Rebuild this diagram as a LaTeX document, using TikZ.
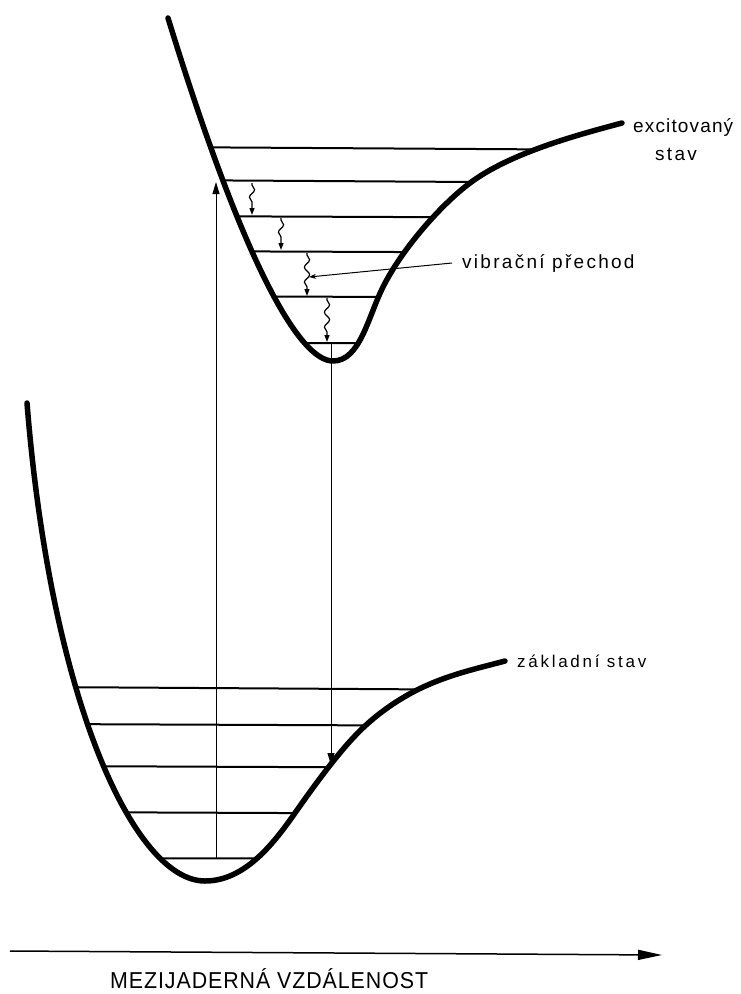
\documentclass[tikz,border=0pt]{standalone}
\usepackage{fontspec}
\setmainfont{Liberation Sans}
\newfontfamily\lblfont[LetterSpace=12]{Liberation Sans}
\newfontfamily\excfont[LetterSpace=6]{Liberation Sans}
\newfontfamily\zakfont[LetterSpace=16]{Liberation Sans}
\newfontfamily\axfont[LetterSpace=4,FakeStretch=0.93]{Liberation Sans}
\usetikzlibrary{arrows.meta,decorations.pathmorphing,intersections}
\begin{document}
\begin{tikzpicture}[x=1pt,y=-1pt,
  curve/.style={line width=5.5pt,line cap=round,line join=round},
  levelline/.style={line width=2pt},
  trans/.style={line width=1pt,-{Triangle[length=12pt,width=7pt]}},
  wavy/.style={line width=1.2pt,decorate,decoration={snake,amplitude=2.6pt,segment length=15pt,pre length=2pt,post length=6pt},-{Triangle[length=7pt,width=5pt]}},
  pointer/.style={line width=1pt,-{Stealth[length=7pt,width=5pt]}},
  lbl/.style={inner sep=0pt,font=\lblfont\fontsize{19}{22}\selectfont},
  elbl/.style={inner sep=0pt,font=\excfont\fontsize{19}{22}\selectfont},
  zlbl/.style={inner sep=0pt,font=\zakfont\fontsize{17}{20}\selectfont},
  axlbl/.style={inner sep=0pt,font=\axfont\fontsize{23}{26}\selectfont}]
\useasboundingbox (0,0) rectangle (741,994);
\fill[white] (0,0) rectangle (741,994);

% curve paths (for level intersections)
\path[name path=exc] (168,18) .. controls (245,268) and (300,361) .. (333,361)
  .. controls (360,361) and (368,317) .. (383,287)
  .. controls (403,247) and (443,203) .. (470,183)
  .. controls (510,153) and (577,135) .. (622,123);
\path[name path=gnd] (27,403) .. controls (51,703) and (135,881) .. (205,881)
  .. controls (245,881) and (274,843) .. (295,813)
  .. controls (316,783) and (343,746) .. (365,726)
  .. controls (380,712) and (399,699) .. (417,690)
  .. controls (447,675) and (475,669) .. (505,661);

% excited vibrational levels
\foreach \ya/\yb in {147/150,180/183,216/218,251/253,296/298,343/343} {
  \path[name path=lv] (150,\ya) -- (640,\yb);
  \draw[levelline,name intersections={of=exc and lv}] (intersection-1) -- (intersection-2);
}
% ground vibrational levels
\foreach \ya/\yb in {687/690,724/726,766/768,812/814,858/859} {
  \path[name path=lv] (40,\ya) -- (520,\yb);
  \draw[levelline,name intersections={of=gnd and lv}] (intersection-1) -- (intersection-2);
}

% absorption / emission
\coordinate (upA) at (216,858); \coordinate (upB) at (216,182);
\draw[trans] (upA) -- (upB);
\coordinate (dnA) at (331,343); \coordinate (dnB) at (331,765);
\draw[trans] (dnA) -- (dnB);

% vibrational relaxation
\coordinate (w1a) at (252,183); \coordinate (w1b) at (252,215);
\coordinate (w2a) at (281,218); \coordinate (w2b) at (281,250);
\coordinate (w3a) at (307,253); \coordinate (w3b) at (307,296);
\coordinate (w4a) at (327,298); \coordinate (w4b) at (327,342);
\draw[wavy] (w1a) -- (w1b);
\draw[wavy] (w2a) -- (w2b);
\draw[wavy] (w3a) -- (w3b);
\draw[wavy] (w4a) -- (w4b);

% potential curves
\draw[curve] (168,18) .. controls (245,268) and (300,361) .. (333,361)
  .. controls (360,361) and (368,317) .. (383,287)
  .. controls (403,247) and (443,203) .. (470,183)
  .. controls (510,153) and (577,135) .. (622,123);
\draw[curve] (27,403) .. controls (51,703) and (135,881) .. (205,881)
  .. controls (245,881) and (274,843) .. (295,813)
  .. controls (316,783) and (343,746) .. (365,726)
  .. controls (380,712) and (399,699) .. (417,690)
  .. controls (447,675) and (475,669) .. (505,661);

% labels
\node[elbl,anchor=base west] (exc) at (633,132) {excitovaný};
\node[lbl,anchor=base] (stav) at (676,160) {stav};
\node[lbl,anchor=base west] (vib) at (462,268) {vibrační přechod};
\node[zlbl,anchor=base west] (zak) at (517,667) {základní stav};
\coordinate (ptrA) at (452,263); \coordinate (ptrB) at (309,277);
\draw[pointer] (ptrA) -- (ptrB);

% axis
\coordinate (ax0) at (10,951); \coordinate (ax1) at (662,955);
\draw[line width=1.5pt,-{Triangle[length=24pt,width=10pt]}] (ax0) -- (ax1);
\node[axlbl,anchor=base west] (axl) at (110,988) {MEZIJADERNÁ VZDÁLENOST};
\end{tikzpicture}
\end{document}
